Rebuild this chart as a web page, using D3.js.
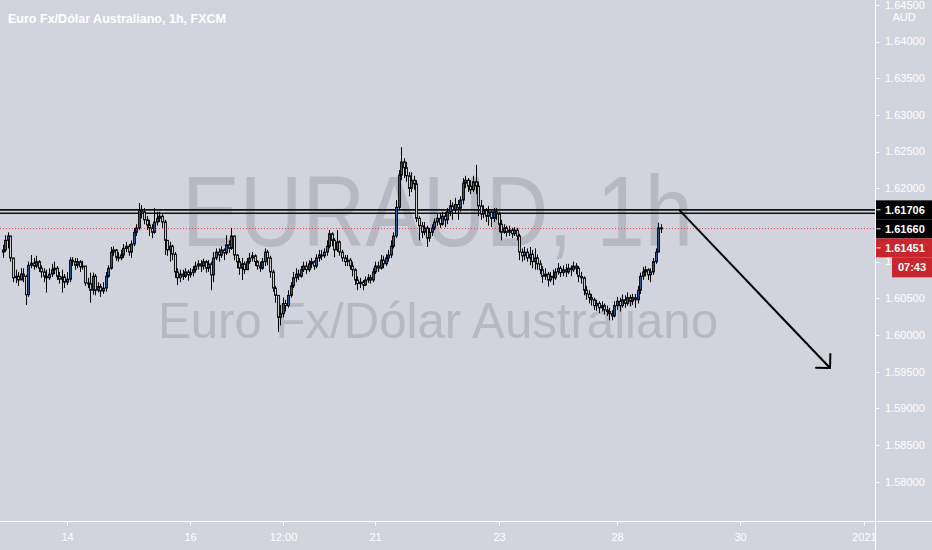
<!DOCTYPE html>
<html><head><meta charset="utf-8">
<script src="https://cdn.jsdelivr.net/npm/d3@7"></script>
<style>html,body{margin:0;padding:0;background:#d1d4dc;overflow:hidden}</style>
</head><body><svg id="c" width="932" height="550"></svg>
<script>
// ---- data (EUR/AUD, 1h candles) ----
const firstOpen = 1.6113;
const closes = [
1.6116,1.6129,1.6135,1.6105,1.6078,1.6080,1.6075,1.6083,1.6080,1.6055,
1.6095,1.6098,1.6094,1.6100,1.6091,1.6086,1.6080,1.6078,1.6083,1.6089,
1.6091,1.6080,1.6076,1.6079,1.6072,1.6076,1.6102,1.6100,1.6095,1.6100,
1.6093,1.6094,1.6071,1.6070,1.6061,1.6080,1.6061,1.6066,1.6060,1.6064,
1.6080,1.6091,1.6113,1.6116,1.6106,1.6105,1.6109,1.6118,1.6121,1.6113,
1.6124,1.6140,1.6146,1.6170,1.6168,1.6157,1.6150,1.6146,1.6140,1.6154,
1.6159,1.6162,1.6154,1.6129,1.6116,1.6121,1.6110,1.6086,1.6078,1.6083,
1.6080,1.6086,1.6082,1.6085,1.6089,1.6094,1.6097,1.6094,1.6100,1.6091,
1.6097,1.6082,1.6105,1.6113,1.6109,1.6116,1.6112,1.6123,1.6118,1.6135,
1.6109,1.6100,1.6091,1.6097,1.6089,1.6100,1.6105,1.6108,1.6100,1.6094,
1.6091,1.6100,1.6113,1.6105,1.6086,1.6064,1.6054,1.6024,1.6029,1.6043,
1.6040,1.6054,1.6067,1.6078,1.6083,1.6080,1.6089,1.6094,1.6089,1.6097,
1.6100,1.6094,1.6105,1.6109,1.6108,1.6113,1.6121,1.6138,1.6129,1.6116,
1.6127,1.6113,1.6105,1.6100,1.6102,1.6094,1.6089,1.6075,1.6070,1.6072,
1.6068,1.6075,1.6078,1.6075,1.6086,1.6094,1.6091,1.6102,1.6097,1.6105,
1.6109,1.6121,1.6135,1.6174,1.6218,1.6236,1.6228,1.6217,1.6200,1.6211,
1.6206,1.6159,1.6149,1.6140,1.6146,1.6132,1.6140,1.6146,1.6154,1.6159,
1.6151,1.6162,1.6157,1.6168,1.6176,1.6170,1.6178,1.6173,1.6184,1.6207,
1.6211,1.6203,1.6198,1.6209,1.6203,1.6176,1.6165,1.6170,1.6162,1.6168,
1.6159,1.6168,1.6165,1.6151,1.6140,1.6146,1.6140,1.6143,1.6138,1.6143,
1.6135,1.6113,1.6108,1.6113,1.6105,1.6110,1.6100,1.6105,1.6097,1.6089,
1.6080,1.6083,1.6075,1.6080,1.6078,1.6086,1.6091,1.6085,1.6089,1.6086,
1.6091,1.6089,1.6094,1.6091,1.6080,1.6078,1.6061,1.6056,1.6051,1.6048,
1.6040,1.6043,1.6037,1.6040,1.6034,1.6032,1.6029,1.6026,1.6040,1.6046,
1.6040,1.6048,1.6043,1.6051,1.6046,1.6051,1.6048,1.6061,1.6080,1.6086,
1.6089,1.6082,1.6086,1.6100,1.6113,1.6146,1.61451];
const highs = [
1.6123,1.6136,1.6140,1.6135,1.6105,1.6089,1.6086,1.6091,1.6091,1.6082,
1.6100,1.6109,1.6105,1.6108,1.6102,1.6095,1.6091,1.6089,1.6091,1.6097,
1.6100,1.6094,1.6086,1.6089,1.6083,1.6086,1.6106,1.6106,1.6105,1.6105,
1.6102,1.6101,1.6094,1.6078,1.6085,1.6085,1.6083,1.6072,1.6070,1.6072,
1.6086,1.6095,1.6120,1.6121,1.6117,1.6113,1.6116,1.6124,1.6127,1.6124,
1.6129,1.6146,1.6151,1.6180,1.6177,1.6173,1.6162,1.6157,1.6151,1.6173,
1.6168,1.6168,1.6165,1.6157,1.6129,1.6127,1.6123,1.6113,1.6091,1.6089,
1.6089,1.6091,1.6089,1.6091,1.6094,1.6100,1.6102,1.6102,1.6104,1.6102,
1.6102,1.6100,1.6113,1.6118,1.6118,1.6121,1.6118,1.6136,1.6129,1.6146,
1.6135,1.6110,1.6105,1.6105,1.6100,1.6105,1.6112,1.6113,1.6110,1.6102,
1.6100,1.6105,1.6118,1.6116,1.6108,1.6089,1.6067,1.6054,1.6041,1.6051,
1.6048,1.6061,1.6072,1.6086,1.6091,1.6089,1.6094,1.6100,1.6100,1.6102,
1.6105,1.6102,1.6110,1.6116,1.6116,1.6118,1.6129,1.6143,1.6140,1.6132,
1.6143,1.6129,1.6116,1.6109,1.6109,1.6105,1.6100,1.6091,1.6080,1.6078,
1.6075,1.6080,1.6083,1.6082,1.6091,1.6100,1.6100,1.6109,1.6108,1.6110,
1.6116,1.6129,1.6140,1.6184,1.6225,1.6256,1.6241,1.6236,1.6222,1.6222,
1.6217,1.6211,1.6162,1.6154,1.6154,1.6149,1.6146,1.6151,1.6159,1.6165,
1.6165,1.6168,1.6168,1.6173,1.6184,1.6181,1.6187,1.6184,1.6189,1.6214,
1.6217,1.6214,1.6211,1.6217,1.6232,1.6209,1.6184,1.6177,1.6173,1.6176,
1.6170,1.6173,1.6173,1.6168,1.6157,1.6151,1.6149,1.6149,1.6146,1.6147,
1.6146,1.6138,1.6118,1.6120,1.6118,1.6120,1.6116,1.6118,1.6110,1.6102,
1.6094,1.6091,1.6086,1.6086,1.6089,1.6091,1.6098,1.6094,1.6095,1.6097,
1.6097,1.6095,1.6100,1.6098,1.6094,1.6086,1.6080,1.6067,1.6061,1.6056,
1.6051,1.6048,1.6046,1.6046,1.6043,1.6040,1.6037,1.6034,1.6046,1.6052,
1.6051,1.6055,1.6054,1.6058,1.6055,1.6056,1.6056,1.6067,1.6085,1.6093,
1.6094,1.6091,1.6091,1.6105,1.6118,1.6153,1.6151];
const lows = [
1.6105,1.6113,1.6118,1.6100,1.6072,1.6071,1.6067,1.6075,1.6072,1.6041,
1.6052,1.6091,1.6089,1.6091,1.6086,1.6078,1.6072,1.6058,1.6075,1.6079,
1.6083,1.6075,1.6070,1.6058,1.6064,1.6068,1.6072,1.6094,1.6089,1.6091,
1.6086,1.6089,1.6067,1.6064,1.6044,1.6055,1.6054,1.6058,1.6052,1.6056,
1.6059,1.6078,1.6089,1.6108,1.6101,1.6100,1.6102,1.6105,1.6113,1.6108,
1.6105,1.6121,1.6135,1.6143,1.6159,1.6151,1.6143,1.6135,1.6132,1.6138,
1.6149,1.6154,1.6146,1.6109,1.6108,1.6100,1.6102,1.6078,1.6068,1.6072,
1.6075,1.6078,1.6074,1.6078,1.6080,1.6085,1.6089,1.6086,1.6089,1.6085,
1.6086,1.6061,1.6072,1.6102,1.6100,1.6105,1.6102,1.6109,1.6112,1.6116,
1.6102,1.6091,1.6082,1.6075,1.6083,1.6091,1.6097,1.6100,1.6094,1.6089,
1.6086,1.6089,1.6094,1.6095,1.6078,1.6059,1.6044,1.6004,1.6013,1.6024,
1.6032,1.6037,1.6051,1.6064,1.6072,1.6075,1.6078,1.6086,1.6083,1.6086,
1.6091,1.6089,1.6091,1.6100,1.6102,1.6105,1.6108,1.6118,1.6121,1.6106,
1.6113,1.6108,1.6100,1.6094,1.6094,1.6089,1.6080,1.6068,1.6061,1.6064,
1.6061,1.6067,1.6071,1.6070,1.6072,1.6083,1.6086,1.6089,1.6091,1.6094,
1.6100,1.6105,1.6118,1.6132,1.6170,1.6211,1.6214,1.6209,1.6189,1.6195,
1.6198,1.6154,1.6129,1.6132,1.6136,1.6120,1.6127,1.6135,1.6143,1.6149,
1.6146,1.6149,1.6147,1.6151,1.6162,1.6157,1.6165,1.6157,1.6168,1.6178,
1.6200,1.6195,1.6192,1.6195,1.6192,1.6162,1.6157,1.6159,1.6154,1.6149,
1.6147,1.6154,1.6157,1.6140,1.6129,1.6138,1.6134,1.6135,1.6132,1.6135,
1.6129,1.6102,1.6100,1.6102,1.6100,1.6095,1.6091,1.6089,1.6089,1.6083,
1.6071,1.6075,1.6066,1.6072,1.6068,1.6075,1.6082,1.6079,1.6080,1.6079,
1.6083,1.6080,1.6086,1.6083,1.6072,1.6070,1.6054,1.6048,1.6043,1.6040,
1.6034,1.6033,1.6030,1.6032,1.6028,1.6026,1.6020,1.6020,1.6024,1.6034,
1.6032,1.6037,1.6037,1.6040,1.6039,1.6041,1.6037,1.6043,1.6056,1.6075,
1.6080,1.6075,1.6072,1.6082,1.6097,1.6113,1.6139];

const xTickIndex = [25, 73, 109, 145, 193, 239, 287, 335];
const xTickLabels = ["14", "16", "12:00", "21", "23", "28", "30", "2021"];
const yTicks = [1.645,1.640,1.635,1.630,1.625,1.620,1.615,1.610,1.605,1.600,1.595,1.590,1.585,1.580];
const levels = [1.61706, 1.61660];
const arrowFrom = [263.2, 1.61706];
const arrowTo = [321.9, 1.5955];
const countdown = "07:43";
const title = "Euro Fx/Dólar Australiano, 1h, FXCM";
const symbolText = "EURAUD, 1h";
const descText = "Euro Fx/Dólar Australiano";
const currency = "AUD";

// ---- layout ----
const W = 932, H = 550, paneR = 875.5, axisY = 521.5;
const BG = "#d1d4dc";
const svg = d3.select("#c");
svg.append("rect").attr("width", W).attr("height", H).attr("fill", BG);

const x = d3.scaleLinear().domain([0, 335]).range([2.7, 863.7]);
const y = d3.scaleLinear().domain([1.58, 1.645]).range([481.7, 4.9]);

const opens = [firstOpen].concat(closes.slice(0, -1));
const candles = closes.map((c, i) => ({i, o: opens[i], h: highs[i], l: lows[i], c}));

const defs = svg.append("defs");
defs.append("clipPath").attr("id", "pane").append("rect")
  .attr("x", 0).attr("y", 0).attr("width", paneR).attr("height", axisY);

const pane = svg.append("g").attr("clip-path", "url(#pane)");

// watermark
const wm = "rgba(118,122,134,0.30)";
pane.append("text").attr("x", 182).attr("y", 246)
  .attr("font-family", "Liberation Sans, Arial, sans-serif").attr("font-size", 100)
  .attr("textLength", 511).attr("lengthAdjust", "spacingAndGlyphs")
  .attr("fill", wm).text(symbolText);
pane.append("text").attr("x", 158).attr("y", 338)
  .attr("font-family", "Liberation Sans, Arial, sans-serif").attr("font-size", 50)
  .attr("textLength", 560).attr("lengthAdjust", "spacingAndGlyphs")
  .attr("fill", wm).text(descText);

// horizontal levels
pane.selectAll("line.lvl").data(levels).enter().append("line")
  .attr("x1", 0).attr("x2", paneR)
  .attr("y1", d => y(d)).attr("y2", d => y(d))
  .attr("stroke", "#111").attr("stroke-width", 1.6);

// current price line
const last = closes[closes.length - 1];
pane.append("line").attr("x1", 0).attr("x2", paneR)
  .attr("y1", y(last)).attr("y2", y(last))
  .attr("stroke", "#e0474c").attr("stroke-width", 1).attr("stroke-dasharray", "1,2");

// candles
const cx = i => Math.round(x(i)) + 0.5;
const cg = pane.append("g");
cg.selectAll("line.wick").data(candles).enter().append("line")
  .attr("x1", d => cx(d.i)).attr("x2", d => cx(d.i))
  .attr("y1", d => y(Math.max(d.h, d.o, d.c))).attr("y2", d => y(Math.min(d.l, d.o, d.c)))
  .attr("stroke", "#000").attr("stroke-width", 1);
cg.selectAll("rect.body").data(candles).enter().append("rect")
  .attr("x", d => cx(d.i) - 0.9)
  .attr("width", 1.8)
  .attr("y", d => y(Math.max(d.o, d.c)))
  .attr("height", d => Math.max(1, Math.abs(y(d.o) - y(d.c))))
  .attr("fill", d => d.c >= d.o ? "#3a6db3" : "#ffffff")
  .attr("stroke", "#000").attr("stroke-width", 1);

// arrow
const ax1 = x(arrowFrom[0]), ay1 = y(arrowFrom[1]), ax2 = x(arrowTo[0]), ay2 = y(arrowTo[1]);
pane.append("line").attr("x1", ax1).attr("y1", ay1).attr("x2", ax2).attr("y2", ay2)
  .attr("stroke", "#000").attr("stroke-width", 2);
const ang = Math.atan2(ay1 - ay2, ax1 - ax2), hl = 14;
[ang - Math.PI / 4, ang + Math.PI / 4].forEach(a => {
  pane.append("line").attr("x1", ax2).attr("y1", ay2)
    .attr("x2", ax2 + hl * Math.cos(a)).attr("y2", ay2 + hl * Math.sin(a))
    .attr("stroke", "#000").attr("stroke-width", 2).attr("stroke-linecap", "round");
});

// title
svg.append("text").attr("x", 8).attr("y", 22.5)
  .attr("font-family", "Liberation Sans, Arial, sans-serif").attr("font-size", 13)
  .attr("font-weight", "bold").attr("textLength", 218).attr("lengthAdjust", "spacingAndGlyphs")
  .attr("fill", "#ffffff").text(title);

// axes lines
svg.append("line").attr("x1", paneR).attr("x2", paneR).attr("y1", 0).attr("y2", H)
  .attr("stroke", "#fff").attr("stroke-width", 1);
svg.append("line").attr("x1", 0).attr("x2", W).attr("y1", axisY).attr("y2", axisY)
  .attr("stroke", "#fff").attr("stroke-width", 1);

const lblFont = "Liberation Sans, Arial, sans-serif";

// price labels on the right axis (positions computed first so covered ticks can be handled)
const boxes = [
  {v: levels[0], fill: "#000000", text: levels[0].toFixed(5)},
  {v: levels[1], fill: "#000000", text: levels[1].toFixed(5)},
  {v: last, fill: "#c8262c", text: last.toFixed(5)}
];
const bh = 19;
let prevBottom = -Infinity;
boxes.forEach(b => { b.top = Math.max(y(b.v) - bh / 2, prevBottom); prevBottom = b.top + bh; });
const cdTop = prevBottom, cdH = 20, cdX = 892;

// y ticks
const yt = svg.append("g");
yTicks.forEach(t => {
  const ty = y(t);
  const underBox = boxes.some(b => ty >= b.top && ty <= b.top + bh);
  const underCd = ty > cdTop && ty < cdTop + cdH;
  if (underBox) return;
  yt.append("line").attr("x1", paneR).attr("x2", paneR + 4).attr("y1", Math.round(ty) + 0.5).attr("y2", Math.round(ty) + 0.5)
    .attr("stroke", "#fff");
  // a label partly hidden by the countdown box only shows the part left of it
  const full = t.toFixed(5);
  const shown = underCd ? full.slice(0, 1) : full;
  yt.append("text").attr("x", 885).attr("y", ty).attr("dy", "0.35em")
    .attr("font-family", lblFont).attr("font-size", 11).attr("fill", "#fff").text(shown);
});
// currency label
svg.append("rect").attr("x", paneR + 1).attr("y", 9.5).attr("width", W - paneR).attr("height", 16).attr("fill", BG);
svg.append("text").attr("x", 904).attr("y", 17.5).attr("dy", "0.35em").attr("text-anchor", "middle")
  .attr("font-family", lblFont).attr("font-size", 11).attr("fill", "#fff").text(currency);

// x ticks
xTickIndex.forEach((ti, k) => {
  const px = Math.round(x(ti)) + 0.5;
  svg.append("line").attr("x1", px).attr("x2", px).attr("y1", axisY).attr("y2", axisY + 4).attr("stroke", "#fff");
  svg.append("text").attr("x", px).attr("y", 537).attr("dy", "0.35em").attr("text-anchor", "middle")
    .attr("font-family", lblFont).attr("font-size", 11).attr("fill", "#fff").text(xTickLabels[k]);
});

boxes.forEach(b => {
  svg.append("rect").attr("x", paneR + 0.5).attr("y", b.top).attr("width", W - paneR).attr("height", bh).attr("fill", b.fill);
  svg.append("line").attr("x1", paneR + 1).attr("x2", paneR + 5).attr("y1", b.top + bh / 2).attr("y2", b.top + bh / 2).attr("stroke", "#fff");
  svg.append("text").attr("x", 885).attr("y", b.top + bh / 2).attr("dy", "0.35em")
    .attr("font-family", lblFont).attr("font-size", 11).attr("font-weight", "bold").attr("fill", "#fff").text(b.text);
});
svg.append("rect").attr("x", cdX).attr("y", cdTop).attr("width", W - cdX).attr("height", cdH).attr("fill", "#c8262c");
svg.append("text").attr("x", 912).attr("y", cdTop + cdH / 2).attr("dy", "0.35em").attr("text-anchor", "middle")
  .attr("font-family", lblFont).attr("font-size", 11).attr("font-weight", "bold").attr("fill", "#fff").text(countdown);
</script></body></html>
